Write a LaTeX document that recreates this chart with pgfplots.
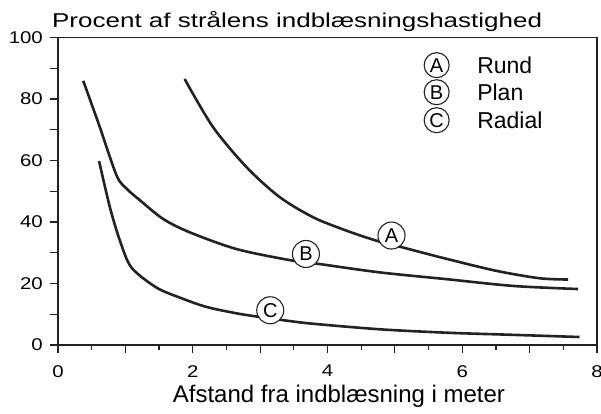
\documentclass[border=0pt]{standalone}
\usepackage{fontspec}
\setmainfont{Liberation Sans}
\newfontfamily\widefont[FakeStretch=1.2]{Liberation Sans}
\usepackage{graphicx}
\usepackage{pgfplots}
\pgfplotsset{compat=1.18}
\definecolor{ink}{HTML}{222222}
\tikzset{
  lab/.style={circle, draw=ink, line width=1.1bp, fill=white, minimum size=27bp, inner sep=0pt, font=\fontsize{20bp}{20bp}\selectfont},
  leg/.style={circle, draw=ink, line width=1.1bp, fill=white, minimum size=25bp, inner sep=0pt, font=\fontsize{20bp}{20bp}\selectfont},
  curve/.style={line width=2.6bp, color=ink, mark=none, smooth, tension=0.5},
}
\begin{document}
\begin{tikzpicture}
\useasboundingbox (0,0) rectangle (601bp,414bp);
\begin{axis}[
  at={(58bp,69bp)}, anchor=south west,
  scale only axis, width=539bp, height=307.5bp,
  xmin=0, xmax=8, ymin=0, ymax=100,
  clip=false,
  axis line style={line width=1.3bp, color=ink},
  tick style={line width=1.2bp, color=ink},
  tick align=outside,
  xtick pos=bottom, ytick pos=left,
  xtick={0,1,...,8}, xticklabels={0,,2,,4,,6,,8},
  minor xtick={0.5,1.5,...,7.5},
  ytick={0,10,...,100}, yticklabels={0,,20,,40,,60,,80,,100},
  major tick length=8bp, minor tick length=5bp,
  /pgf/number format/assume math mode=true,
  xticklabel style={font=\widefont\fontsize{17bp}{17bp}\selectfont, inner sep=0pt, anchor=north, yshift=-12bp},
  yticklabel style={font=\widefont\fontsize{17bp}{17bp}\selectfont, inner sep=0pt, anchor=east, xshift=-7bp},
]
% A: Rund
\addplot[curve] coordinates {(1.88,86.5) (2.30,70.9) (2.80,57.8) (3.29,48.1) (3.79,41.5) (4.28,37.2) (4.73,33.9) (5.12,31.7) (5.77,28.0) (6.51,24.1) (7.15,21.7) (7.57,21.3)};
% B: Plan
\addplot[curve] coordinates {(0.375,85.9) (0.62,70.9) (0.87,55.1) (1.02,50.8) (1.22,47.0) (1.56,41.0) (1.96,36.6) (2.65,31.2) (3.44,27.6) (3.89,26.3) (4.78,23.6) (5.77,21.4) (6.76,19.2) (7.72,18.2)};
% C: Radial
\addplot[curve] coordinates {(0.61,59.8) (0.77,44.8) (0.92,33.9) (1.09,25.2) (1.46,18.7) (1.81,15.4) (2.2,12.4) (2.65,10.3) (3.0,9.1) (3.4,7.9) (3.79,6.9) (4.78,5.1) (5.77,4.0) (6.76,3.3) (7.74,2.6)};
\node[lab] at (axis cs:4.95,35.6) {A};
\node[lab] at (axis cs:3.68,29.6) {B};
\node[lab] at (axis cs:3.15,11.3) {C};
\node[leg] at (axis cs:5.62,91.0) {A};
\node[leg] at (axis cs:5.62,82.2) {B};
\node[leg] at (axis cs:5.62,73.1) {C};
\node[anchor=west, inner sep=0pt, font=\fontsize{23bp}{23bp}\selectfont] at (axis cs:6.22,91.0) {Rund};
\node[anchor=west, inner sep=0pt, font=\fontsize{23bp}{23bp}\selectfont] at (axis cs:6.22,82.2) {Plan};
\node[anchor=west, inner sep=0pt, font=\fontsize{23bp}{23bp}\selectfont] at (axis cs:6.22,73.1) {Radial};
\node[anchor=base west, inner sep=0pt, font=\fontsize{20bp}{20bp}\selectfont] at (axis cs:-0.09,103.1) {\scalebox{1.3}[1]{Procent af strålens indblæsningshastighed}};
\node[anchor=base, inner sep=0pt, font=\fontsize{24bp}{24bp}\selectfont] at (axis cs:4.17,-18.8) {Afstand fra indblæsning i meter};
\end{axis}
\end{tikzpicture}
\end{document}
